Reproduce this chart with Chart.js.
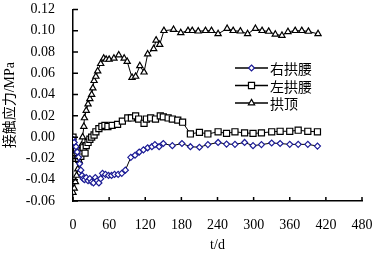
<!DOCTYPE html>
<html>
<head>
<meta charset="utf-8">
<script src="https://cdn.jsdelivr.net/npm/chart.js@4/dist/chart.umd.min.js"></script>
<style>
  html, body { margin: 0; padding: 0; background: #fff; }
  #wrap { width: 377px; height: 256px; }
</style>
</head>
<body>
<div id="wrap"><canvas id="c" width="377" height="256"></canvas></div>
<script>
// ── Data ─────────────────────────────────────────────
const seriesNames = ['右拱腰', '左拱腰', '拱顶'];

const tRight = [0,2,5,7,9,11,13,15,17,19,22,25,28,31,34,37,40,43,46,49,54,59,64,69,75,81,87,96,103,110,
  117,124,131,136,143,150,165,181,195,210,224,241,255,269,285,299,313,330,344,360,374,390,406];
const vRight = [-0.002,-0.005,-0.009,-0.014,-0.019,-0.025,-0.031,-0.036,-0.039,-0.040,
  -0.038,-0.041,-0.039,-0.042,-0.043,-0.038,-0.041,-0.043,-0.039,-0.034,
  -0.035,-0.036,-0.036,-0.035,-0.035,-0.034,-0.031,-0.019,-0.017,-0.014,
  -0.012,-0.010,-0.009,-0.007,-0.009,-0.006,-0.008,-0.006,-0.009,-0.0095,
  -0.007,-0.005,-0.0065,-0.0068,-0.005,-0.008,-0.007,-0.0055,-0.006,-0.0068,
  -0.0068,-0.0068,-0.0084];

const tLeft = [0,1,3,5,7,9,11,13,15,17,20,22,25,28,31,35,38,43,48,53,58,65,74,82,91,97,104,109,118,122,
  129,137,145,150,158,165,174,182,195,210,224,241,255,269,285,299,313,330,344,360,374,390,406];
const vLeft = [0.000,-0.020,-0.018,-0.020,-0.016,-0.020,-0.015,-0.018,-0.013,-0.010,
  -0.015,-0.008,-0.005,-0.002,0.000,0.002,0.005,0.008,0.010,0.011,
  0.010,0.011,0.012,0.015,0.018,0.018,0.020,0.017,0.013,0.017,
  0.018,0.017,0.020,0.019,0.018,0.017,0.016,0.014,0.003,0.0045,
  0.003,0.005,0.0035,0.005,0.004,0.0035,0.004,0.005,0.0055,0.0055,
  0.0065,0.0055,0.005];

const tCrown = [0,2,4,6,8,10,12,14,16,18,19,22,25,28,31,33,35,38,41,46,51,55,60,68,76,85,90,98,104,111,
  118,124,134,138,144,151,167,179,191,198,208,220,230,241,256,266,278,290,303,314,325,336,347,357,369,380,391,407];
const vCrown = [-0.052,-0.048,-0.042,-0.036,-0.030,-0.022,-0.015,-0.008,0.000,0.010,
  0.018,0.025,0.031,0.036,0.040,0.046,0.053,0.057,0.062,0.069,
  0.074,0.073,0.073,0.074,0.077,0.074,0.071,0.056,0.057,0.067,
  0.061,0.078,0.083,0.091,0.087,0.100,0.101,0.098,0.100,0.100,
  0.0995,0.100,0.100,0.097,0.102,0.100,0.0995,0.097,0.102,0.100,
  0.0993,0.0965,0.0955,0.099,0.100,0.100,0.0993,0.097];

const xTicks = [0, 60, 120, 180, 240, 300, 360, 420, 480];
const yTicks = [-0.06, -0.04, -0.02, 0.00, 0.02, 0.04, 0.06, 0.08, 0.10, 0.12];

const xTitle = 't/d';
const yTitle = '接触应力/MPa';

// ── Helpers ──────────────────────────────────────────
const pts = (ts, vs) => ts.map((t, i) => ({ x: t, y: vs[i] }));
const SERIF = "'Liberation Serif', 'Noto Sans CJK SC', serif";

function marker(ctx, style, x, y, r) {
  ctx.beginPath();
  if (style === 'rectRot') {
    ctx.moveTo(x, y - r); ctx.lineTo(x + r, y); ctx.lineTo(x, y + r); ctx.lineTo(x - r, y);
  } else if (style === 'rect') {
    const s = r * Math.SQRT1_2;
    ctx.rect(x - s, y - s, 2 * s, 2 * s);
  } else {
    ctx.moveTo(x, y - r);
    ctx.lineTo(x + r * 0.866, y + r * 0.5);
    ctx.lineTo(x - r * 0.866, y + r * 0.5);
  }
  ctx.closePath();
  ctx.fill();
  ctx.stroke();
}

// inward tick marks + legend inside the plot
const decor = {
  id: 'decor',
  afterDraw(chart) {
    const { ctx, chartArea: a, scales: { x, y } } = chart;
    ctx.save();
    ctx.strokeStyle = '#000';
    ctx.lineWidth = 1.5;
    ctx.beginPath();
    xTicks.forEach(v => {
      const px = x.getPixelForValue(v);
      ctx.moveTo(px, a.bottom); ctx.lineTo(px, a.bottom - 4);
    });
    yTicks.forEach(v => {
      const py = y.getPixelForValue(v);
      ctx.moveTo(a.left, py); ctx.lineTo(a.left + 5, py);
    });
    ctx.stroke();

    // legend
    const lx0 = 235, lx1 = 268, tx = 270;
    const rows = [68, 85.5, 103];
    ctx.font = "14px 'Noto Sans CJK SC', sans-serif";
    ctx.textBaseline = 'middle';
    ctx.fillStyle = '#000';
    chart.data.datasets.forEach((ds, i) => {
      const ly = rows[i];
      ctx.strokeStyle = ds.borderColor;
      ctx.lineWidth = 1.5;
      ctx.beginPath(); ctx.moveTo(lx0, ly); ctx.lineTo(lx1, ly); ctx.stroke();
      ctx.fillStyle = ds.pointBackgroundColor;
      ctx.strokeStyle = ds.pointBorderColor;
      ctx.lineWidth = ds.pointBorderWidth;
      marker(ctx, ds.pointStyle, (lx0 + lx1) / 2, ly, ds.pointRadius);
      ctx.fillStyle = '#000';
      ctx.fillText(ds.label, tx, ly + 1);
    });
    ctx.restore();
  }
};

function makeSet(label, data, style, radius, markColor) {
  return {
    label, data,
    borderColor: '#000',
    borderWidth: 1,
    pointStyle: style,
    pointRadius: radius,
    pointBorderWidth: 1.2,
    pointBorderColor: markColor,
    pointBackgroundColor: '#fff',
    fill: false,
    tension: 0,
  };
}

new Chart(document.getElementById('c'), {
  type: 'line',
  data: {
    datasets: [
      makeSet(seriesNames[0], pts(tRight, vRight), 'rectRot', 3, '#1c1c96'),
      makeSet(seriesNames[1], pts(tLeft, vLeft), 'rect', 4.3, '#000'),
      makeSet(seriesNames[2], pts(tCrown, vCrown), 'triangle', 3.6, '#000'),
    ],
  },
  options: {
    responsive: false,
    animation: false,
    devicePixelRatio: 1,
    layout: { padding: { top: 8, right: 15, left: 0, bottom: 0 } },
    plugins: { legend: { display: false }, tooltip: { enabled: false } },
    scales: {
      x: {
        type: 'linear',
        min: 0, max: 480,
        afterBuildTicks: s => { s.ticks = xTicks.map(v => ({ value: v })); },
        afterFit: s => { s.height = 55; },
        grid: { display: true, drawOnChartArea: false, drawTicks: true, tickLength: 14, tickColor: 'rgba(0,0,0,0)' },
        border: { display: true, color: '#000', width: 1.5 },
        ticks: { color: '#000', padding: 2, autoSkip: false, font: { family: SERIF, size: 14 }, maxRotation: 0 },
        title: { display: true, text: xTitle, color: '#000', padding: { top: 0, bottom: 2 },
                 font: { family: SERIF, size: 14 } },
      },
      y: {
        min: -0.06, max: 0.12,
        afterBuildTicks: s => { s.ticks = yTicks.map(v => ({ value: v })); },
        afterFit: s => { s.width = 73; },
        grid: { display: true, drawOnChartArea: false, drawTicks: true, tickLength: 17, tickColor: 'rgba(0,0,0,0)' },
        border: { display: true, color: '#000', width: 1.5 },
        ticks: {
          color: '#000', padding: 1, autoSkip: false, font: { family: SERIF, size: 14 },
          callback: v => (Math.abs(v) < 1e-9 ? 0 : v).toFixed(2),
        },
        title: { display: true, text: yTitle, color: '#000', padding: { top: 2, bottom: 0 },
                 font: { family: SERIF, size: 14 } },
      },
    },
  },
  plugins: [decor],
});
</script>
</body>
</html>
